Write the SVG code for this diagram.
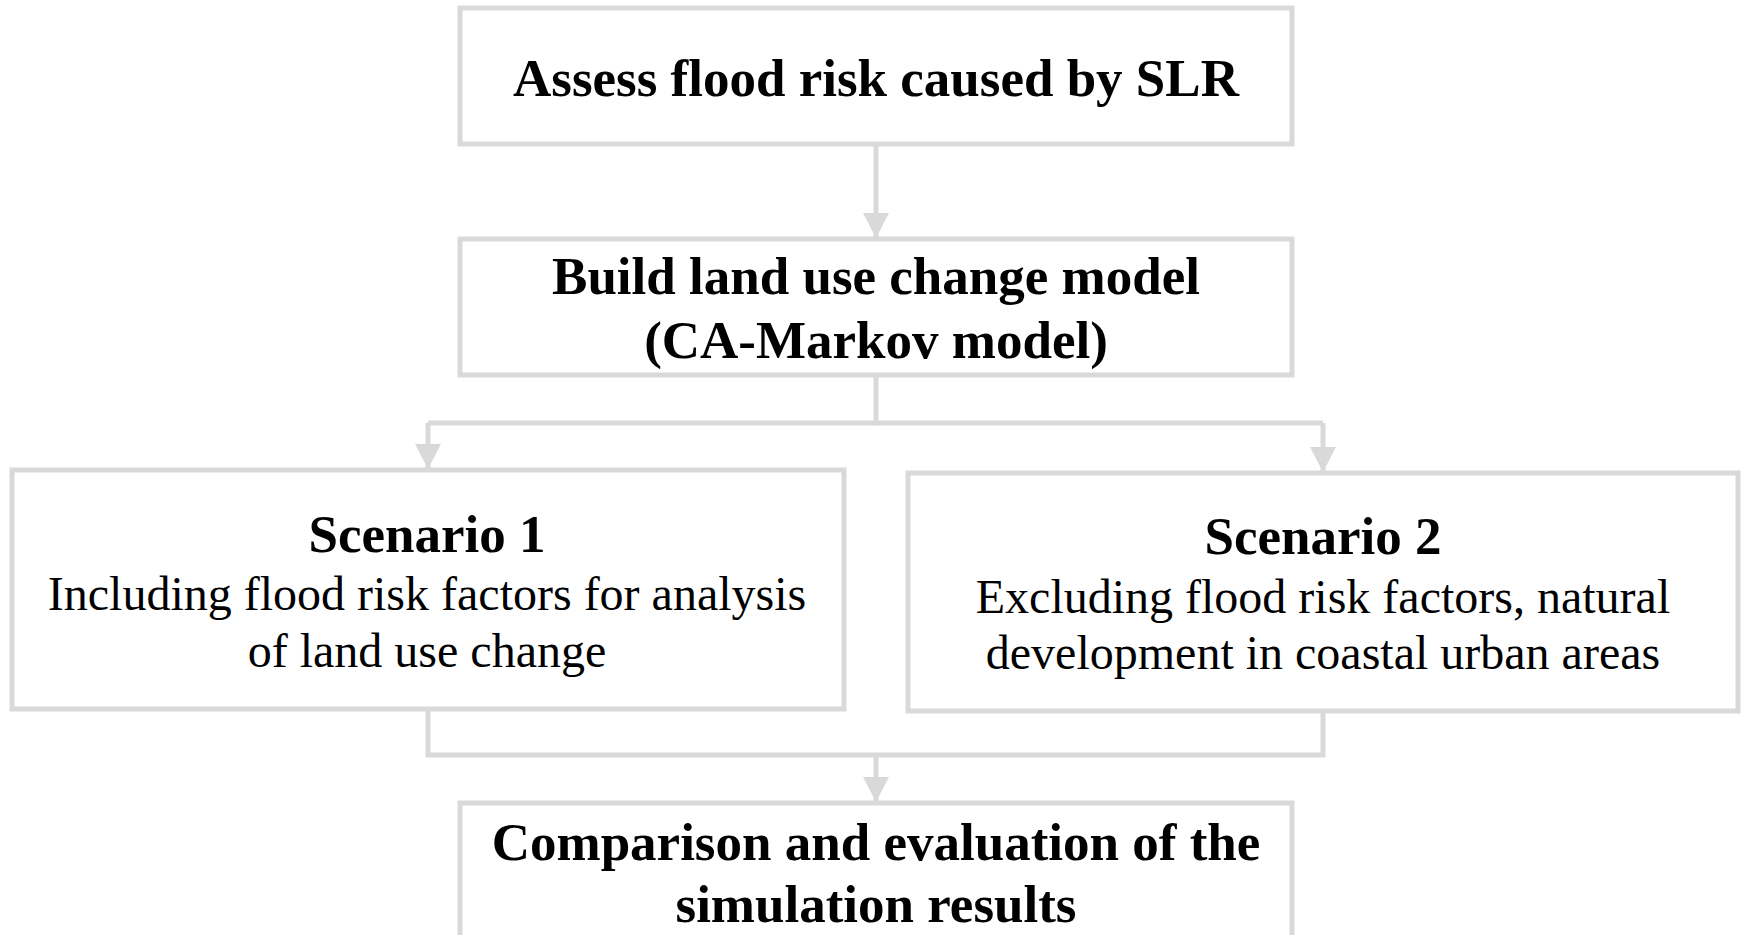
<svg xmlns="http://www.w3.org/2000/svg" width="1742" height="935" viewBox="0 0 1742 935">
<style>
.box{fill:#fff;stroke:#d9d9d9;stroke-width:5}
.con{fill:none;stroke:#d9d9d9;stroke-width:5}
.b{font-family:"Liberation Serif","Times New Roman",serif;font-weight:bold;font-size:53px;fill:#000;text-anchor:middle}
.r{font-family:"Liberation Serif","Times New Roman",serif;font-size:48px;fill:#000;text-anchor:middle}
</style>
<defs>
<marker id="ah" markerUnits="userSpaceOnUse" markerWidth="26" markerHeight="26" refX="25" refY="13" orient="auto">
<path d="M0,0 L25,13 L0,26 Z" fill="#d9d9d9"/>
</marker>
</defs>
<rect width="1742" height="935" fill="#fff"/>
<g id="connectors">
<path class="con" d="M876,144 V238" marker-end="url(#ah)"/>
<path class="con" d="M876,375 V423 H428"/>
<path class="con" d="M876,423 H1323"/>
<path class="con" d="M428,423 V469" marker-end="url(#ah)"/>
<path class="con" d="M1323,423 V472" marker-end="url(#ah)"/>
<path class="con" d="M428,709 V755 H1323 V711"/>
<path class="con" d="M876,755 V802" marker-end="url(#ah)"/>
</g>
<g id="n1">
<rect class="box" x="460" y="8" width="832" height="136"/>
<text class="b" x="876" y="96">Assess flood risk caused by SLR</text>
</g>
<g id="n2">
<rect class="box" x="460" y="239" width="832" height="136"/>
<text class="b" x="876" y="294">Build land use change model</text>
<text class="b" x="876" y="358">(CA-Markov model)</text>
</g>
<g id="n3">
<rect class="box" x="12" y="470" width="832" height="239"/>
<text class="b" x="427" y="552">Scenario 1</text>
<text class="r" x="427" y="610">Including flood risk factors for analysis</text>
<text class="r" x="427" y="667">of land use change</text>
</g>
<g id="n4">
<rect class="box" x="908" y="473" width="830" height="238"/>
<text class="b" x="1323" y="554">Scenario 2</text>
<text class="r" x="1323" y="613">Excluding flood risk factors, natural</text>
<text class="r" x="1323" y="669">development in coastal urban areas</text>
</g>
<g id="n5">
<rect class="box" x="460" y="803" width="832" height="160"/>
<text class="b" x="876" y="860">Comparison and evaluation of the</text>
<text class="b" x="876" y="922">simulation results</text>
</g>
</svg>
